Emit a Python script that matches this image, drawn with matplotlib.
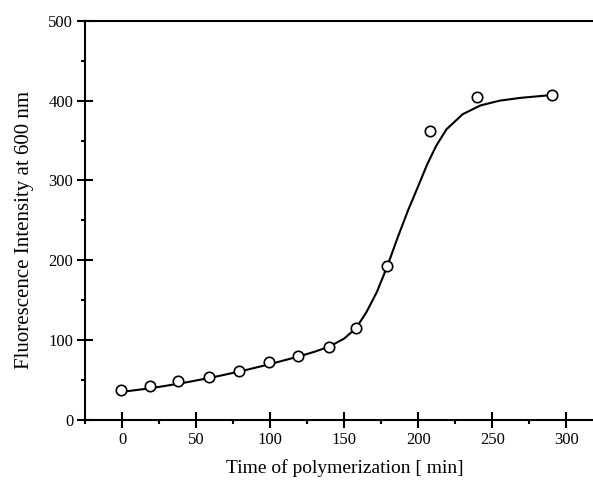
import matplotlib
matplotlib.use("Agg")
import matplotlib.pyplot as plt
from matplotlib.ticker import MultipleLocator

# measured points (open circles)
time_min = [-1, 19, 38, 59, 79, 99, 119, 140, 158, 179, 208, 240, 290]
intensity = [38, 42, 49, 54, 61, 72.5, 80.5, 92, 115.5, 192.5, 362, 404, 407]

# fitted curve
fit_x = [-1, 20, 40, 60, 80, 100, 120, 130, 140, 150, 158, 165, 172, 179,
         186, 193, 200, 206, 212, 219, 230, 242, 255, 269, 290]
fit_y = [35, 40, 46, 53, 61, 70, 80, 85.5, 92, 102, 115, 135, 160, 192,
         228, 262, 293, 320, 343, 364, 383, 394, 400, 403.5, 407]

xticks = [0, 50, 100, 150, 200, 250, 300]
yticks = [0, 100, 200, 300, 400, 500]

plt.rcParams['font.family'] = ['Liberation Serif', 'DejaVu Serif']

fig = plt.figure(figsize=(5.93, 4.84), dpi=100)
ax = fig.add_axes([0.1433, 0.1322, 0.8567, 0.8248])

ax.plot(fit_x, fit_y, color='black', linewidth=1.5, zorder=2)
ax.plot(time_min, intensity, linestyle='none', marker='o', markersize=7.5,
        markerfacecolor='white', markeredgecolor='black', markeredgewidth=1.2,
        zorder=3)

ax.set_xlim(-25, 318)
ax.set_ylim(0, 500)
ax.set_xticks(xticks)
ax.set_yticks(yticks)
ax.xaxis.set_minor_locator(MultipleLocator(25))
ax.yaxis.set_minor_locator(MultipleLocator(50))

ax.spines['right'].set_visible(False)
for s in ['left', 'bottom', 'top']:
    ax.spines[s].set_linewidth(1.5)

ax.tick_params(which='major', direction='inout', length=11, width=1.5,
               labelsize=12, pad=3)
ax.tick_params(which='minor', direction='out', length=3, width=1.5)
ax.tick_params(top=False, right=False, which='both')

ax.set_xlabel('Time of polymerization [ min]', fontsize=14, labelpad=8)
ax.set_ylabel('Fluorescence Intensity at 600 nm', fontsize=15, labelpad=10)
ax.xaxis.label.set_x(0.512)
ax.yaxis.label.set_y(0.475)

fig.savefig('out.png', dpi=100)
